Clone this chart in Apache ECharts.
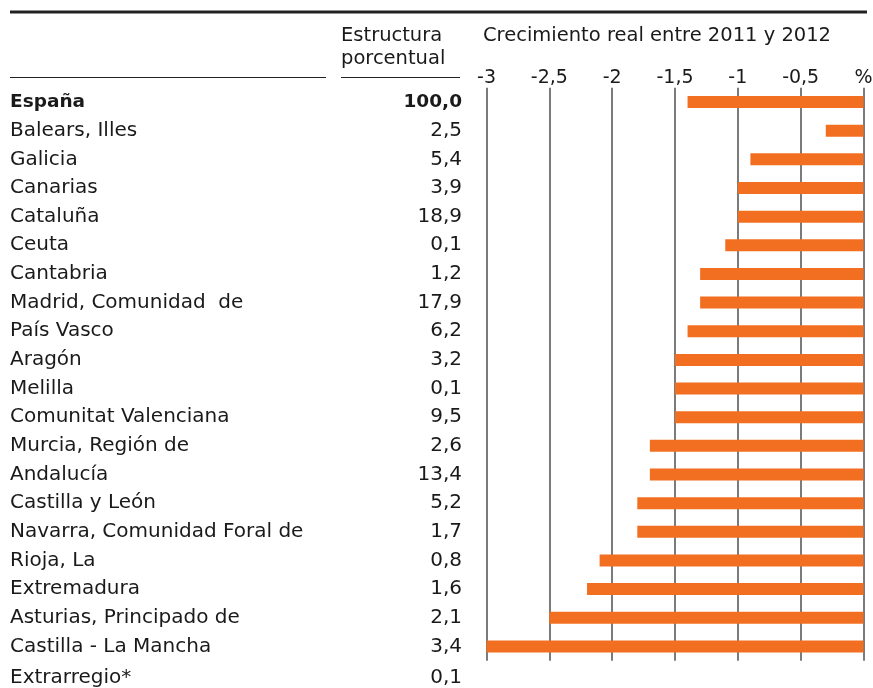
<!DOCTYPE html>
<html>
<head>
<meta charset="utf-8">
<script src="https://cdn.jsdelivr.net/npm/echarts@6/dist/echarts.min.js"></script>
<style>
  html, body { margin: 0; padding: 0; background: #fff; }
  #chart { width: 873px; height: 688px; }
</style>
</head>
<body>
<div id="chart"></div>
<script>
// Comunidades autónomas (España primero, Extrarregio sin dato de crecimiento)
var regiones = ['España', 'Balears, Illes', 'Galicia', 'Canarias', 'Cataluña', 'Ceuta',
  'Cantabria', 'Madrid, Comunidad  de', 'País Vasco', 'Aragón', 'Melilla',
  'Comunitat Valenciana', 'Murcia, Región de', 'Andalucía', 'Castilla y León',
  'Navarra, Comunidad Foral de', 'Rioja, La', 'Extremadura', 'Asturias, Principado de',
  'Castilla - La Mancha'];
var regionExtra = 'Extrarregio*';

// Estructura porcentual (%)
var estructura = [100.0, 2.5, 5.4, 3.9, 18.9, 0.1, 1.2, 17.9, 6.2, 3.2, 0.1, 9.5, 2.6,
  13.4, 5.2, 1.7, 0.8, 1.6, 2.1, 3.4];
var estructuraExtra = 0.1;

// Crecimiento real entre 2011 y 2012 (%)
var crecimiento = [-1.4, -0.3, -0.9, -1.0, -1.0, -1.1, -1.3, -1.3, -1.4, -1.5, -1.5, -1.5,
  -1.7, -1.7, -1.8, -1.8, -2.1, -2.2, -2.5, -3.0];

// Escala del eje de crecimiento
var ejeMin = -3, ejeMax = 0, ejeIntervalo = 0.5;

var FONT = 'DejaVu Sans';
var INK = '#1a1a1a';
var FS = 20;        // filas
var FS_BOLD = 18.5; // fila total (negrita)
var FS_HEAD = 19.5; // cabeceras
var FS_TICK = 19;   // eje

function coma(v) { return v.toFixed(1).replace('.', ','); }

var rowH = 28.65;
var gridTop = 87.7;
var gridLeft = 486.5;
var gridWidth = 377;

var labelBase = { color: INK, fontFamily: FONT, fontSize: FS };

var nameData = regiones.map(function (r, i) {
  return i === 0 ? { value: r, textStyle: { fontWeight: 'bold', fontSize: FS_BOLD, align: 'left' } } : r;
});
var valueData = estructura.map(function (v, i) {
  return i === 0 ? { value: coma(v), textStyle: { fontWeight: 'bold', fontSize: FS_BOLD, align: 'right' } } : coma(v);
});

var headFont = FS_HEAD + 'px "' + FONT + '"';

var chart = echarts.init(document.getElementById('chart'), null, { renderer: 'canvas' });

chart.setOption({
  animation: false,
  backgroundColor: '#fff',
  grid: [
    { left: gridLeft, top: gridTop, width: gridWidth, height: rowH * regiones.length,
      containLabel: false, outerBoundsMode: 'none' },
    { left: gridLeft, top: gridTop + rowH * regiones.length + 3, width: gridWidth, height: rowH,
      containLabel: false, outerBoundsMode: 'none' }
  ],
  xAxis: [
    {
      gridIndex: 0, type: 'value', position: 'top',
      min: ejeMin, max: ejeMax, interval: ejeIntervalo,
      axisLine: { show: false }, axisTick: { show: false },
      splitLine: { show: true, lineStyle: { color: '#5a5a5a', width: 1.6 } },
      axisLabel: Object.assign({}, labelBase, {
        fontSize: FS_TICK,
        margin: 0,
        formatter: function (v) {
          if (v === 0) return '%';
          return String(v).replace('.', ',');
        }
      })
    },
    {
      gridIndex: 1, type: 'value', min: ejeMin, max: ejeMax, show: false
    }
  ],
  yAxis: [
    {
      gridIndex: 0, type: 'category', inverse: true, data: nameData,
      axisLine: { show: false }, axisTick: { show: false }, splitLine: { show: false },
      axisLabel: Object.assign({}, labelBase, { align: 'left', margin: gridLeft - 10, interval: 0 })
    },
    {
      gridIndex: 0, type: 'category', inverse: true, position: 'left', data: valueData,
      axisLine: { show: false }, axisTick: { show: false }, splitLine: { show: false },
      axisLabel: Object.assign({}, labelBase, { align: 'right', margin: gridLeft - 462, interval: 0 })
    },
    {
      gridIndex: 1, type: 'category', data: [regionExtra],
      axisLine: { show: false }, axisTick: { show: false },
      axisLabel: Object.assign({}, labelBase, { align: 'left', margin: gridLeft - 10 })
    },
    {
      gridIndex: 1, type: 'category', position: 'left', data: [coma(estructuraExtra)],
      axisLine: { show: false }, axisTick: { show: false },
      axisLabel: Object.assign({}, labelBase, { align: 'right', margin: gridLeft - 462 })
    }
  ],
  series: [
    {
      type: 'bar', xAxisIndex: 0, yAxisIndex: 0,
      data: crecimiento, barWidth: 12,
      itemStyle: { color: '#f26f22' },
      silent: true
    }
  ],
  graphic: [
    { type: 'line', shape: { x1: 10, y1: 12, x2: 867, y2: 12 }, style: { stroke: '#222', lineWidth: 3 } },
    { type: 'line', shape: { x1: 10, y1: 77.5, x2: 326, y2: 77.5 }, style: { stroke: '#222', lineWidth: 1 } },
    { type: 'line', shape: { x1: 341, y1: 77.5, x2: 460, y2: 77.5 }, style: { stroke: '#222', lineWidth: 1 } },
    { type: 'text', left: 341, top: 26, style: { text: 'Estructura', fill: INK, font: headFont } },
    { type: 'text', left: 341, top: 49, style: { text: 'porcentual', fill: INK, font: headFont } },
    { type: 'text', left: 483, top: 26, style: { text: 'Crecimiento real entre 2011 y 2012', fill: INK, font: headFont } }
  ]
});
</script>
</body>
</html>
